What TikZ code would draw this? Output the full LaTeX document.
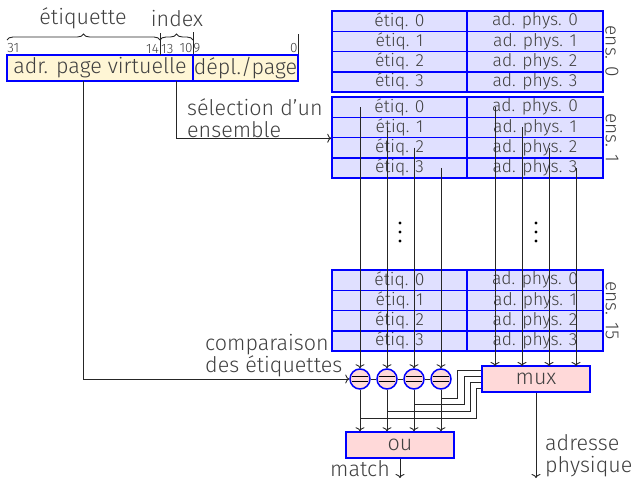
\documentclass[tikz,border=0pt]{standalone}
\usepackage{fontspec}
\setmainfont{Fira Sans Light}
\usetikzlibrary{decorations.pathreplacing, arrows.meta}
\definecolor{txtgray}{HTML}{404040}
\definecolor{regfill}{HTML}{FFF6D5}
\definecolor{cellfill}{HTML}{E0E0FF}
\definecolor{opfill}{HTML}{FFD9D9}

\begin{document}
\begin{tikzpicture}[x=1pt, y=-1pt,
      every node/.style={font=\fontsize{21.5}{22}\selectfont\color{txtgray}},
      field/.style={draw=blue, fill=regfill, line width=1.5pt,
                    minimum height=26pt, inner sep=0pt},
      cell/.style={draw=blue, fill=cellfill, line width=1.5pt,
                   minimum height=20.25pt, inner sep=0pt,
                   font=\fontsize{17.5}{20}\selectfont\color{txtgray}},
      op/.style={draw=blue, fill=opfill, line width=1.5pt,
                 minimum width=108pt, minimum height=26pt, inner sep=0pt},
      cmp/.style={circle, draw=blue, fill=opfill, line width=1.5pt,
                  minimum size=20pt, inner sep=0pt,
                  path picture={\draw[line width=0.8pt, black]
                    ([shift={(-8pt,2.5pt)}]path picture bounding box.center) -- ++(16pt,0pt)
                    ([shift={(-8pt,-2.5pt)}]path picture bounding box.center) -- ++(16pt,0pt);}},
      bits/.style={font=\fontsize{13.5}{15}\selectfont\color{txtgray}, inner sep=1pt},
      lbl/.style={align=left, inner sep=0pt},
      wire/.style={line width=0.9pt, draw=black!85},
      arr/.style={wire, -{To[length=4pt, width=9pt]}}
    ]
    \useasboundingbox (0,0) rectangle (634,479);

    % Virtual address register
    \node[field, minimum width=186pt] (vpn) at (100,68) {adr. page virtuelle};
    \node[field, minimum width=105pt] (off) at (245.5,68) {dépl./page};
    \coordinate (split) at (160,55);
    \coordinate (tagsel) at (83,81);
    \coordinate (setsel) at (176.5,81);

    \node[bits, anchor=south west] (b31) at (vpn.north west) {31};
    \node[bits, anchor=south east] (b14) at (split) {14};
    \node[bits, anchor=south west] (b13) at (split) {13};
    \node[bits, anchor=south east] (b10) at (vpn.north east) {10};
    \node[bits, anchor=south west] (b9)  at (off.north west) {9};
    \node[bits, anchor=south east] (b0)  at (off.north east) {0};

    \draw[wire] (split) -- ++(0,-22);
    \draw[wire] (vpn.north east) -- ++(0,-22);
    \draw[wire] (off.north east) -- ++(0,-20);

    \draw[wire, decorate, decoration={brace, amplitude=6pt}] (7,40) -- (160,40);
    \draw[wire, decorate, decoration={brace, amplitude=6pt}] (160,40) -- (193,40);
    \node (tagname) at (83,18) {étiquette};
    \node (idxname) at (177,19) {index};

    % Sets 0, 1 and 15 of the TLB
    \foreach \s/\top in {0/11, 1/97, 15/270} {
      \foreach \r in {0,...,3} {
        \node[cell, minimum width=135pt] (t\s-\r) at (399.5, \top+20.25*\r+10.125) {étiq. \r};
        \node[cell, minimum width=136pt] (p\s-\r) at (535, \top+20.25*\r+10.125) {ad. phys. \r};
      }
      \node[rotate=-90, font=\fontsize{19}{20}\selectfont\color{txtgray}] (ens\s) at (612, \top+40.5) {ens. \s};
    }
    \foreach \y in {223,232,241} {
      \fill[black] (400,\y) circle (1.6pt);
      \fill[black] (536,\y) circle (1.6pt);
    }

    % Comparators, mux and or gate
    \foreach \i in {0,...,3} {
      \node[cmp] (cmp\i) at (360+27*\i, 379) {};
      \coordinate (min\i) at (495+27*\i, 366);
    }
    \node[op] (mux) at (536,379) {mux};
    \node[op] (ou) at (400,445) {ou};
    \coordinate (paddr) at (536,478);
    \coordinate (hit) at (400,478);

    \draw[arr] (setsel) |- (t1-1.south west);
    \draw[arr] (tagsel) |- (cmp0);
    \draw[wire] (cmp0) -- (cmp1) (cmp1) -- (cmp2) (cmp2) -- (cmp3);
    \foreach \i in {0,...,3} {
      \draw[arr] (cmp\i |- t1-\i) -- (cmp\i);
      \draw[arr] (min\i |- p1-\i) -- (min\i);
      \draw[arr] (cmp\i) -- (cmp\i |- ou.north);
    }
    \foreach \i/\y/\x/\m in {3/398/457/370, 2/404/464/376, 1/411/470/382, 0/418/476/388}
      \draw[wire] (cmp\i |- 0,\y) -| (\x,\m) -- (mux.west |- 0,\m);
    \draw[arr] (mux) -- (paddr);
    \draw[arr] (ou) -- (hit);

    % Labels
    \node[lbl, anchor=base west] (sellbl) at (187,137) {sélection d’un\\ensemble};
    \node[lbl, anchor=base west] (cmplbl) at (205,372) {comparaison\\des étiquettes};
    \node[lbl, anchor=base west] (addrlbl) at (545,472) {adresse\\physique};
    \node[lbl, anchor=base east] (matchlbl) at (390,476) {match};
\end{tikzpicture}
\end{document}
